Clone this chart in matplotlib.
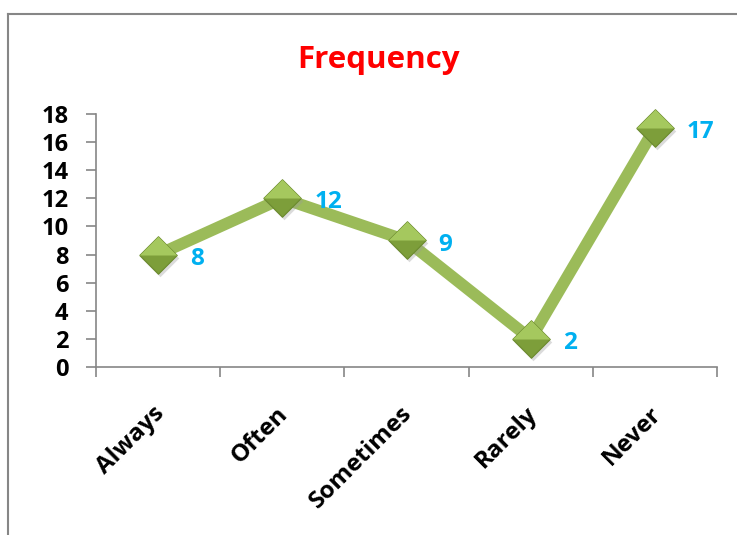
import matplotlib
matplotlib.use("Agg")
import matplotlib.pyplot as plt
from matplotlib.lines import Line2D
from matplotlib.transforms import offset_copy, ScaledTranslation

categories = ["Always", "Often", "Sometimes", "Rarely", "Never"]
values = [8, 12, 9, 2, 17]
y_ticks = [0, 2, 4, 6, 8, 10, 12, 14, 16, 18]

plt.rcParams["font.family"] = ["Open Sans", "DejaVu Sans"]
plt.rcParams["font.weight"] = "bold"

fig = plt.figure(figsize=(7.37, 5.35), dpi=100)
ax = fig.add_axes([0.1303, 0.314, 0.8426, 0.473])

x = list(range(len(categories)))
diamond = [(-1, 0), (0, 1), (1, 0), (0, -1), (-1, 0)]
top_half = [(-1, 0), (0, 1), (1, 0), (-1, 0)]

ax.plot(x, values, color="#9bbb59", lw=8.5, solid_capstyle="butt", zorder=2)
shadow = offset_copy(ax.transData, fig=fig, x=2, y=-3, units="dots")
ax.plot(x, values, ls="none", marker=diamond, ms=27, mfc="#999999",
        mec="none", alpha=0.35, transform=shadow, zorder=3, clip_on=False)
ax.plot(x, values, ls="none", marker=diamond, ms=27, mfc="#7d9e3a",
        mec="#6b8a2e", mew=0.8, zorder=4, clip_on=False)
ax.plot(x, values, ls="none", marker=top_half, ms=27, mfc="#a5c85e",
        mec="none", zorder=5, clip_on=False)

for xi, v in zip(x, values):
    ax.annotate(str(v), (xi, v), xytext=(23, -3), textcoords="offset points",
                ha="left", va="center", color="#00b0f0", fontsize=17.5,
                fontweight="bold")

ax.set_xlim(-0.5, len(categories) - 0.5)
ax.set_ylim(0, 18)
ax.set_yticks(y_ticks)
ax.set_xticks([i - 0.5 for i in range(len(categories) + 1)])
ax.set_xticklabels([])
ax.set_xticks(x, minor=True)
ax.set_xticklabels(categories, minor=True, rotation=45, ha="right",
                   va="top", rotation_mode="anchor", fontsize=17.5,
                   fontweight="bold")
ax.tick_params(axis="x", which="minor", length=0, pad=25)
ax.tick_params(axis="both", which="major", length=7, width=1.2,
               color="#868686")
ax.tick_params(axis="y", labelsize=17, pad=13)
for lbl in ax.get_yticklabels():
    lbl.set_fontweight("bold")
shift = ScaledTranslation(-6 / 100, 0, fig.dpi_scale_trans)
for lbl in ax.get_xticklabels(minor=True):
    lbl.set_transform(lbl.get_transform() + shift)

for s in ["top", "right"]:
    ax.spines[s].set_visible(False)
for s in ["left", "bottom"]:
    ax.spines[s].set_color("#868686")
    ax.spines[s].set_linewidth(1.2)

fig.text(0.513, 0.888, "Frequency", color="red", fontsize=22.5,
         fontweight="bold", ha="center", va="center")

fig.add_artist(Line2D([8 / 737, 8 / 737], [0, 1 - 14 / 535],
                      transform=fig.transFigure, color="#868686", lw=1.5))
fig.add_artist(Line2D([8 / 737, 1], [1 - 14 / 535, 1 - 14 / 535],
                      transform=fig.transFigure, color="#868686", lw=1.5))

fig.savefig("out.png", dpi=100)
